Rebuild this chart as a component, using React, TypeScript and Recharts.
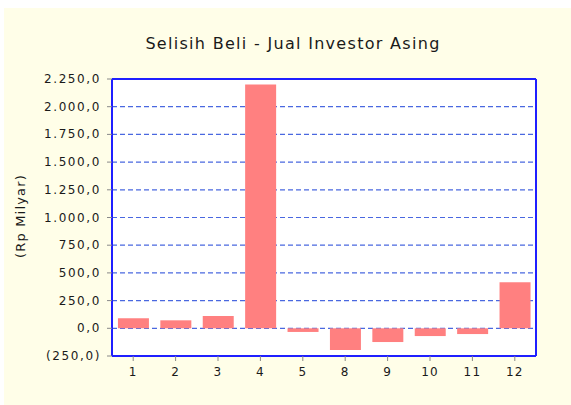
import React from "react";
import {
  BarChart,
  Bar,
  XAxis,
  YAxis,
  CartesianGrid,
} from "recharts";

// bulan (kategori) dan nilai selisih beli-jual, Rp milyar
const months = ["1", "2", "3", "4", "5", "8", "9", "10", "11", "12"];
const netBuy = [90, 72, 111, 2200, -33, -196, -124, -70, -52, 415];
const yTicks = [-250, 0, 250, 500, 750, 1000, 1250, 1500, 1750, 2000, 2250];

const data = months.map((m, i) => ({ month: m, value: netBuy[i] }));

const BLUE = "#1f1fff";
const FONT = "'DejaVu Sans', sans-serif";

function fmtNum(v: number): string {
  const abs = Math.abs(v);
  const int = Math.floor(abs)
    .toString()
    .replace(/\B(?=(\d{3})+(?!\d))/g, ".");
  const s = int + "," + (Math.round(abs * 10) % 10);
  return v < 0 ? "(" + s + ")" : s;
}

const YTick = (props: any) => {
  const { x, y, payload } = props;
  return (
    <text
      x={x}
      y={y}
      dy={4}
      textAnchor="end"
      fontFamily={FONT}
      fontSize={12}
      fill="#1a1a1a"
      style={{ letterSpacing: 1.6 }}
    >
      {fmtNum(payload.value)}
    </text>
  );
};

const XTick = (props: any) => {
  const { x, y, payload } = props;
  return (
    <text
      x={x}
      y={y + 11}
      textAnchor="middle"
      fontFamily={FONT}
      fontSize={12}
      fill="#1a1a1a"
      style={{ letterSpacing: 1.2 }}
    >
      {payload.value}
    </text>
  );
};

export default function App() {
  return (
    <div
      style={{
        position: "absolute",
        left: 0,
        top: 0,
        width: 571,
        height: 405,
        background: "#fff",
      }}
    >
      <div
        style={{
          position: "absolute",
          left: 4,
          top: 8,
          right: 0,
          bottom: 0,
          background: "#fffee8",
        }}
      />
      <div
        style={{
          position: "absolute",
          left: 0,
          width: 586,
          top: 34,
          textAlign: "center",
          fontFamily: FONT,
          fontSize: 16,
          letterSpacing: 1.3,
          color: "#1a1a1a",
        }}
      >
        Selisih Beli - Jual Investor Asing
      </div>
      <div
        style={{
          position: "absolute",
          left: 20,
          top: 216,
          transform: "translate(-50%, -50%) rotate(-90deg)",
          fontFamily: FONT,
          fontSize: 13,
          letterSpacing: 1.2,
          color: "#1a1a1a",
          whiteSpace: "nowrap",
        }}
      >
        (Rp Milyar)
      </div>
      <div style={{ position: "absolute", left: 0, top: 0 }}>
        <BarChart
          width={571}
          height={405}
          data={data}
          margin={{ top: 78, right: 34, bottom: 19, left: 52 }}
          barCategoryGap="14%"
        >
          <CartesianGrid
            vertical={false}
            fill="#ffffff"
            stroke="#4a68e0"
            strokeDasharray="5 3"
            strokeWidth={1.2}
          />
          <XAxis
            dataKey="month"
            height={30}
            tickSize={5}
            tickMargin={4}
            axisLine={{ stroke: BLUE, strokeWidth: 2 }}
            tickLine={{ stroke: "#888" }}
            tick={<XTick />}
            interval={0}
          />
          <XAxis
            xAxisId="top"
            dataKey="month"
            orientation="top"
            height={1}
            tick={false}
            tickLine={false}
            axisLine={{ stroke: BLUE, strokeWidth: 2 }}
          />
          <YAxis
            width={60}
            domain={[-250, 2250]}
            ticks={yTicks}
            interval={0}
            tickSize={5}
            tickMargin={6}
            axisLine={{ stroke: BLUE, strokeWidth: 2 }}
            tickLine={{ stroke: "#888" }}
            tick={<YTick />}
          />
          <YAxis
            yAxisId="right"
            orientation="right"
            width={1}
            domain={[-250, 2250]}
            tick={false}
            tickLine={false}
            axisLine={{ stroke: BLUE, strokeWidth: 2 }}
          />
          <Bar dataKey="value" fill="#ff8080" isAnimationActive={false} />
        </BarChart>
      </div>
    </div>
  );
}
